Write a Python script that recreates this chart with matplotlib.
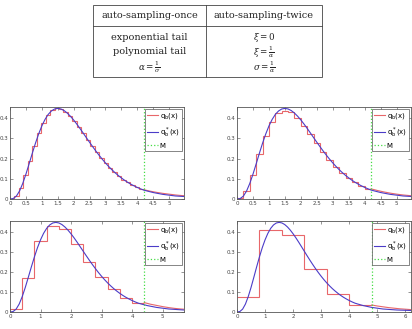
import numpy as np
import matplotlib
matplotlib.use("Agg")
import matplotlib.pyplot as plt
from matplotlib.ticker import FuncFormatter, MultipleLocator
from matplotlib.lines import Line2D
from matplotlib.patches import Rectangle

# table text
col_heads = ["auto-sampling-once", "auto-sampling-twice"]
col_once = ["exponential tail", "polynomial tail", r"$\alpha = \frac{1}{\sigma}$"]
col_twice = [r"$\xi = 0$", r"$\xi = \frac{1}{\alpha}$", r"$\sigma = \frac{1}{\alpha}$"]

# target density q_b*(x), read at 0.1 steps
curve_x = np.round(np.arange(0, 6.21, 0.1), 2)
curve_y = [0.0, 0.0022, 0.0143, 0.0395, 0.0767, 0.1226, 0.1735, 0.2256, 0.2757, 0.3214,
           0.3609, 0.3933, 0.4181, 0.4352, 0.4450, 0.4481, 0.4453, 0.4373, 0.4249, 0.4092,
           0.3908, 0.3705, 0.3488, 0.3262, 0.3034, 0.2808, 0.2586, 0.2371, 0.2165, 0.1969,
           0.1785, 0.1612, 0.1452, 0.1304, 0.1167, 0.1043, 0.0929, 0.0825, 0.0732, 0.0649,
           0.0573, 0.0505, 0.0444, 0.0400, 0.0360, 0.0320, 0.0290, 0.0260, 0.0230, 0.0210,
           0.0190, 0.0170, 0.0150, 0.0140, 0.0130, 0.0120, 0.0110, 0.0100, 0.0095, 0.0090,
           0.0085, 0.0080, 0.0075]

# histogram approximations q_b(x) for each panel
bins_a = [0.0008, 0.017, 0.056, 0.118, 0.189, 0.261, 0.326, 0.378, 0.416, 0.439,
          0.448, 0.445, 0.431, 0.411, 0.385, 0.355, 0.324, 0.292, 0.261, 0.231,
          0.203, 0.177, 0.153, 0.132, 0.113, 0.096, 0.082, 0.069, 0.058, 0.049]
bins_b = [0.003, 0.038, 0.118, 0.224, 0.314, 0.383, 0.425, 0.436, 0.428, 0.400,
          0.363, 0.321, 0.275, 0.233, 0.195, 0.160, 0.130, 0.104, 0.083, 0.065, 0.051]
bins_c = [0.015, 0.17, 0.353, 0.432, 0.414, 0.34, 0.251, 0.175, 0.115, 0.072, 0.047]
bins_d = [0.077, 0.41, 0.386, 0.213, 0.092, 0.035]

# tails beyond M
tail_x_a = [4.2, 4.4, 4.6, 4.8, 5.0, 5.2, 5.4, 5.6]
tail_y_a = [0.046, 0.039, 0.033, 0.028, 0.024, 0.020, 0.017, 0.015]
tail_x_b = [4.2, 4.4, 4.6, 4.8, 5.0, 5.2, 5.4, 5.6]
tail_y_b = [0.050, 0.042, 0.035, 0.029, 0.024, 0.020, 0.017, 0.014]
tail_x_c = [4.4, 4.6, 4.8, 5.0, 5.2, 5.4, 5.6, 5.8]
tail_y_c = [0.047, 0.039, 0.033, 0.027, 0.022, 0.018, 0.015, 0.013]
tail_x_d = [4.8, 5.0, 5.2, 5.4, 5.6, 5.8, 6.0, 6.2]
tail_y_d = [0.035, 0.030, 0.026, 0.022, 0.019, 0.016, 0.014, 0.012]

M_vals = [4.2, 4.2, 4.4, 4.8]
x_max = [5.47, 5.45, 5.7, 6.2]
x_step = [0.5, 0.5, 1, 1]

RED = "#e8676a"
BLUE = "#4b3cc8"
GREEN = "#44dd44"

plt.rcParams['mathtext.fontset'] = 'dejavuserif'
fig = plt.figure(figsize=(4.12, 3.29), dpi=100)

# table drawn in pixel coordinates
tab = fig.add_axes([0, 0, 1, 1])
tab.set_xlim(0, 412)
tab.set_ylim(329, 0)
tab.axis('off')
tab.add_patch(Rectangle((93, 5), 229, 72, fill=False, ec='#444444', lw=0.6))
tab.plot([93, 322], [26, 26], color='#444444', lw=0.6)
tab.plot([206, 206], [5, 77], color='#444444', lw=0.6)
tfont = dict(family='DejaVu Serif', size=7, color='#222222', ha='center', va='center')
mfont = dict(tfont, size=6.3)
tab.text(149.5, 16, col_heads[0], **tfont)
tab.text(264, 16, col_heads[1], **tfont)
rows_y = [37, 52, 67]
for i, (a, b) in enumerate(zip(col_once, col_twice)):
    tab.text(149.5, rows_y[i], a, **(mfont if a.startswith('$') else tfont))
    tab.text(264, rows_y[i], b, **mfont)

positions = [[10, 107, 174, 92], [237, 107, 174, 92], [10, 221, 174, 91], [237, 221, 174, 91]]
bins_all = [bins_a, bins_b, bins_c, bins_d]
tails = [(tail_x_a, tail_y_a), (tail_x_b, tail_y_b), (tail_x_c, tail_y_c), (tail_x_d, tail_y_d)]
fmt = FuncFormatter(lambda v, p: '%g' % v)

for k in range(4):
    l, t, w, h = positions[k]
    ax = fig.add_axes([l / 412, (329 - t - h) / 329, w / 412, h / 329])
    M = M_vals[k]
    edges = np.linspace(0, M, len(bins_all[k]) + 1)
    ax.stairs(bins_all[k], edges, baseline=None, color=RED, lw=0.8)
    ax.plot(tails[k][0], tails[k][1], color=RED, lw=0.8)
    ax.plot(curve_x, curve_y, color=BLUE, lw=0.8)
    ax.axvline(M, color=GREEN, ls=':', lw=0.9)
    ax.set_xlim(0, x_max[k])
    ax.set_ylim(0, 0.455)
    ax.xaxis.set_major_locator(MultipleLocator(x_step[k]))
    ax.yaxis.set_major_locator(MultipleLocator(0.1))
    ax.xaxis.set_major_formatter(fmt)
    ax.yaxis.set_major_formatter(fmt)
    ax.tick_params(direction='in', length=2, width=0.4, labelsize=4, pad=1.5,
                   top=True, right=True, colors='#444444')
    for s in ax.spines.values():
        s.set_color('#555555')
        s.set_linewidth(0.6)
    handles = [Line2D([], [], color=RED, lw=0.8), Line2D([], [], color=BLUE, lw=0.8),
               Line2D([], [], color=GREEN, ls=':', lw=0.9)]
    leg = ax.legend(handles, [r'q$_\mathregular{b}$(x)', r'q$_\mathregular{b}^*$(x)', 'M'],
                    loc='upper right', fontsize=5, fancybox=False, framealpha=1,
                    edgecolor='#555555', handlelength=1.5, handletextpad=0.3,
                    borderpad=0.3, labelspacing=0.6, borderaxespad=0.3)
    leg.get_frame().set_linewidth(0.5)

fig.savefig("out.png", dpi=100)
